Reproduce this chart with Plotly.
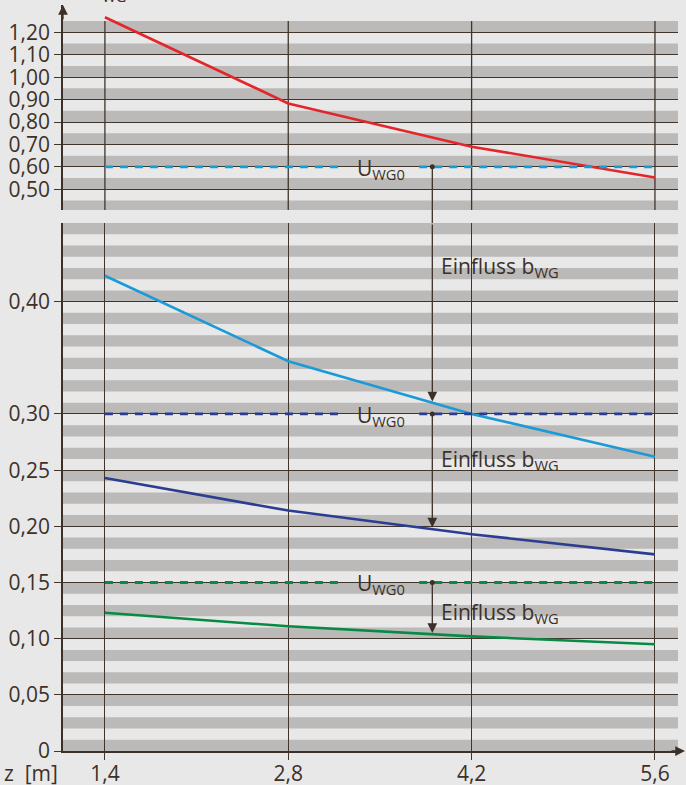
import plotly.graph_objects as go

# ---------------- data ----------------
z = [1.4, 2.8, 4.2, 5.6]
z_ticktext = ["1,4", "2,8", "4,2", "5,6"]

u_red = [1.267, 0.883, 0.690, 0.553]        # top section
u_lightblue = [0.423, 0.347, 0.300, 0.262]
u_darkblue = [0.243, 0.214, 0.193, 0.175]
u_green = [0.123, 0.111, 0.102, 0.095]

u_wg0_top = 0.60
u_wg0_mid = 0.30
u_wg0_low = 0.15

arrow_x = 3.9
arrow_tips = [0.311, 0.199, 0.105]
label_gap = [3.2, 3.8]

top_ticks = [0.50, 0.60, 0.70, 0.80, 0.90, 1.00, 1.10, 1.20]
top_ticktext = ["0,50", "0,60", "0,70", "0,80", "0,90", "1,00", "1,10", "1,20"]
bot_ticks = [0, 0.05, 0.10, 0.15, 0.20, 0.25, 0.30, 0.40]
bot_ticktext = ["0", "0,05", "0,10", "0,15", "0,20", "0,25", "0,30", "0,40"]

# ---------------- style / layout ----------------
TXT = "#3c3128"
GRID = "#3f352c"
STRIPE = "#bcbab8"
BG = "#e8e8e8"
RED = "#e4262a"
LBLUE = "#1a9ad7"
DBLUE = "#2b3d91"
GREEN = "#078a43"
FONT = "Open Sans"
FS = 21

X_RANGE = [1.08, 5.776]
TOP_RANGE = [0.4077, 1.3217]
BOT_RANGE = [0, 0.47]
TOP_DOMAIN = [0.7252, 1.0]
BOT_DOMAIN = [0.0, 0.7078]
TOP_STRIPE_END = 1.25


def gap_x(v):
    return [z[0], label_gap[0], None, label_gap[1], z[-1]], [v, v, None, v, v]


fig = go.Figure()

# bottom subplot curves (x, y)
fig.add_trace(go.Scatter(x=z, y=u_lightblue, mode="lines", line=dict(color=LBLUE, width=2.6),
                         xaxis="x", yaxis="y", showlegend=False))
fig.add_trace(go.Scatter(x=z, y=u_darkblue, mode="lines", line=dict(color=DBLUE, width=2.6),
                         xaxis="x", yaxis="y", showlegend=False))
fig.add_trace(go.Scatter(x=z, y=u_green, mode="lines", line=dict(color=GREEN, width=2.6),
                         xaxis="x", yaxis="y", showlegend=False))
gx, gy = gap_x(u_wg0_mid)
fig.add_trace(go.Scatter(x=gx, y=gy, mode="lines", line=dict(color=DBLUE, width=2.8, dash="8px,7px"),
                         xaxis="x", yaxis="y", showlegend=False, connectgaps=False))
gx, gy = gap_x(u_wg0_low)
fig.add_trace(go.Scatter(x=gx, y=gy, mode="lines", line=dict(color=GREEN, width=2.8, dash="8px,7px"),
                         xaxis="x", yaxis="y", showlegend=False, connectgaps=False))
fig.add_trace(go.Scatter(x=[arrow_x, arrow_x], y=[u_wg0_mid, u_wg0_low], mode="markers",
                         marker=dict(color=TXT, size=5), xaxis="x", yaxis="y", showlegend=False))

# top subplot (x2, y2)
fig.add_trace(go.Scatter(x=z, y=u_red, mode="lines", line=dict(color=RED, width=2.6),
                         xaxis="x2", yaxis="y2", showlegend=False))
gx, gy = gap_x(u_wg0_top)
fig.add_trace(go.Scatter(x=gx, y=gy, mode="lines", line=dict(color=LBLUE, width=2.8, dash="8px,7px"),
                         xaxis="x2", yaxis="y2", showlegend=False, connectgaps=False))
fig.add_trace(go.Scatter(x=[arrow_x], y=[u_wg0_top], mode="markers",
                         marker=dict(color=TXT, size=5), xaxis="x2", yaxis="y2", showlegend=False))

shapes = []
# stripes bottom
k = 0
while 0.02 * k < BOT_RANGE[1] - 1e-9:
    shapes.append(dict(type="rect", xref="x domain", yref="y", x0=0, x1=1,
                       y0=0.02 * k, y1=0.02 * k + 0.01, fillcolor=STRIPE, line=dict(width=0), layer="below"))
    k += 1
# stripes top
k = 4
while 0.1 * k < TOP_STRIPE_END - 1e-9:
    shapes.append(dict(type="rect", xref="x2 domain", yref="y2", x0=0, x1=1,
                       y0=max(0.1 * k, TOP_RANGE[0]), y1=0.1 * k + 0.05, fillcolor=STRIPE,
                       line=dict(width=0), layer="below"))
    k += 1
# vertical gridlines in top section
for zi in z:
    shapes.append(dict(type="line", xref="x2", yref="y2", x0=zi, x1=zi, y0=TOP_RANGE[0], y1=TOP_STRIPE_END,
                       line=dict(color=GRID, width=1.3), layer="between"))
# influence arrow 1: top segment + gap segment
shapes.append(dict(type="line", xref="x2", yref="y2", x0=arrow_x, x1=arrow_x, y0=u_wg0_top, y1=TOP_RANGE[0],
                   line=dict(color=TXT, width=1.3), layer="above"))
shapes.append(dict(type="line", xref="x", yref="paper", x0=arrow_x, x1=arrow_x,
                   y0=BOT_DOMAIN[1], y1=TOP_DOMAIN[0], line=dict(color=TXT, width=1.3), layer="above"))

annotations = []
# influence arrows
for start, tip in zip([BOT_RANGE[1], u_wg0_mid, u_wg0_low], arrow_tips):
    annotations.append(dict(xref="x", yref="y", axref="x", ayref="y", x=arrow_x, y=tip,
                            ax=arrow_x, ay=start, showarrow=True, arrowhead=2, arrowsize=1.5,
                            arrowwidth=1.3, arrowcolor=TXT, text="", standoff=0, startstandoff=0))
# U_WG0 labels
for ref, yr in [(u_wg0_top, "y2"), (u_wg0_mid, "y"), (u_wg0_low, "y")]:
    annotations.append(dict(xref="x" if yr == "y" else "x2", yref=yr, x=3.31, y=ref, xanchor="left",
                            yanchor="middle", yshift=-2, showarrow=False,
                            text="U<sub>WG0</sub>", font=dict(family=FONT, size=FS, color=TXT)))
# Einfluss labels
for yv in [0.434, 0.263, 0.126]:
    annotations.append(dict(xref="x", yref="y", x=3.95, y=yv, xanchor="left", yanchor="middle", yshift=-4,
                            showarrow=False, text="Einfluss b<sub>WG</sub>",
                            font=dict(family=FONT, size=FS, color=TXT)))
# axis arrows
annotations.append(dict(xref="paper", yref="paper", x=0, y=1, ax=0, ay=16, axref="pixel", ayref="pixel",
                        showarrow=True, arrowhead=2, arrowsize=1.5, arrowwidth=1.3, arrowcolor=TXT, text=""))
annotations.append(dict(xref="paper", yref="paper", x=1.013, y=0, ax=-16, ay=0, axref="pixel", ayref="pixel",
                        showarrow=True, arrowhead=2, arrowsize=1.5, arrowwidth=1.3, arrowcolor=TXT, text=""))
# axis titles
annotations.append(dict(xref="paper", yref="paper", x=-0.1, y=0, xanchor="left", yanchor="top", yshift=-6,
                        showarrow=False, text="z  [m]", font=dict(family=FONT, size=FS, color=TXT)))
annotations.append(dict(xref="paper", yref="paper", x=0.036, y=1, xanchor="left", yanchor="bottom", yshift=-3,
                        showarrow=False, text="U<sub>WG</sub>", font=dict(family=FONT, size=FS, color=TXT)))

axis_common = dict(color=TXT, tickfont=dict(family=FONT, size=FS, color=TXT), automargin=False)

fig.update_layout(
    width=686, height=785,
    margin=dict(l=63, r=8, t=5, b=34, autoexpand=False),
    paper_bgcolor=BG, plot_bgcolor=BG,
    font=dict(family=FONT, size=FS, color=TXT),
    showlegend=False,
    xaxis=dict(domain=[0, 1], anchor="y", range=X_RANGE, tickvals=z, ticktext=z_ticktext,
               showgrid=True, gridcolor=GRID, gridwidth=1.3, showline=True, linecolor=TXT, linewidth=1.5,
               ticks="outside", ticklen=7, tickwidth=1.3, tickcolor=GRID, zeroline=False,
               ticklabelstandoff=-4, **axis_common),
    yaxis=dict(domain=BOT_DOMAIN, anchor="x", range=BOT_RANGE, tickvals=bot_ticks, ticktext=bot_ticktext,
               showgrid=True, gridcolor=GRID, gridwidth=1.3, showline=True, linecolor=TXT, linewidth=1.5,
               ticks="outside", ticklen=7, tickwidth=1.3, tickcolor=GRID, zeroline=False, **axis_common),
    xaxis2=dict(domain=[0, 1], anchor="y2", matches="x", range=X_RANGE, showticklabels=False,
                showgrid=False, showline=False, ticks="", zeroline=False, automargin=False),
    yaxis2=dict(domain=TOP_DOMAIN, anchor="x2", range=TOP_RANGE, tickvals=top_ticks, ticktext=top_ticktext,
                showgrid=True, gridcolor=GRID, gridwidth=1.3, showline=True, linecolor=TXT, linewidth=1.5,
                ticks="outside", ticklen=7, tickwidth=1.3, tickcolor=GRID, zeroline=False, **axis_common),
    shapes=shapes,
    annotations=annotations,
)

fig.write_html(
    "out.html",
    config={"displayModeBar": False},
    post_script="document.body.style.margin='0';document.body.style.overflow='hidden';",
)
